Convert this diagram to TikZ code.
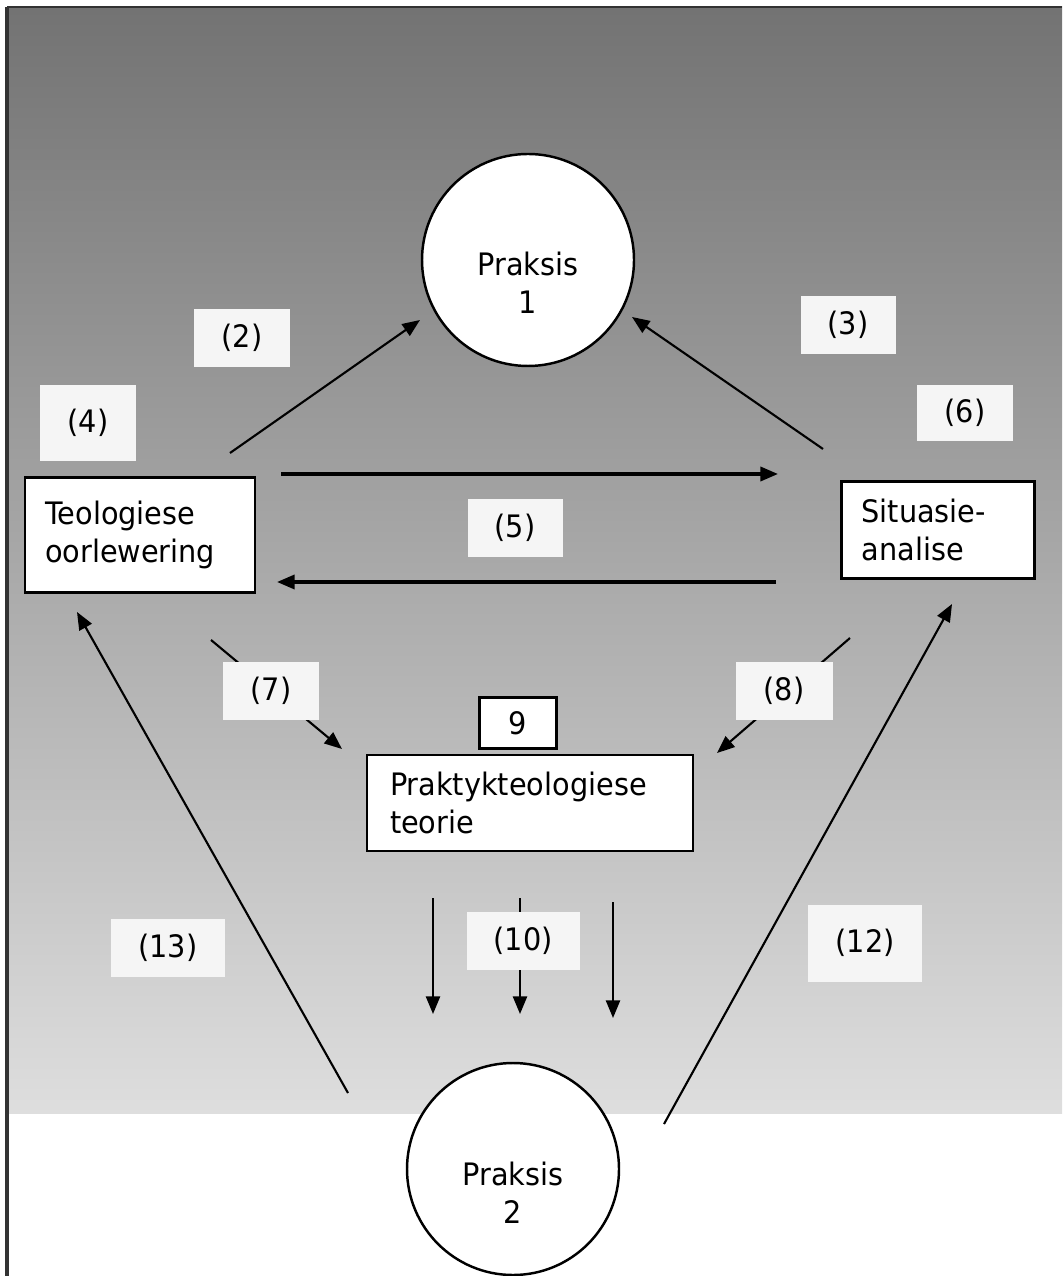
\documentclass[tikz,border=0pt]{standalone}
\usepackage{fontspec}
\setmainfont{DejaVu Sans}[FakeStretch=0.93]
\usetikzlibrary{arrows.meta, positioning, calc}

\begin{document}
\begin{tikzpicture}[
  x=0.1mm, y=-0.1mm,
  >={Triangle[length=5pt,width=4pt]},
  font=\fontsize{8.8}{10.7}\selectfont,
  arr/.style={->, line width=0.6pt},
  harr/.style={->, line width=0.9pt},
  blok/.style={draw, line width=0.8pt, fill=white, align=left, inner xsep=2mm, inner ysep=0pt},
  kring/.style={draw, circle, line width=0.7pt, fill=white, minimum size=21.2mm, inner sep=0pt},
  nommer/.style={fill=white!96!black, inner sep=0pt, minimum height=5.8mm}
  ]
  \useasboundingbox (0,0) rectangle (1062,1276);
  % agtergrond
  \fill[white] (0,0) rectangle (1062,1276);
  \shade[top color=black!55, middle color=black!38, bottom color=black!13] (7,7) rectangle (1062,1113);
  \draw[line width=1pt, black!80] (7,7) -- (7,1276);
  \draw[line width=0.8pt, black!80] (7,7) -- (1062,7);

  % eindpunte van die pyle
  \coordinate (a2s) at (230,453);  \coordinate (a2e) at (420,320);
  \coordinate (a3s) at (823,449);  \coordinate (a3e) at (632,317);
  \coordinate (hrs) at (281,474);  \coordinate (hre) at (778,474);
  \coordinate (hls) at (776,582);  \coordinate (hle) at (277,582);
  \coordinate (a7s) at (211,640);  \coordinate (a7e) at (342,749);
  \coordinate (a8s) at (850,638);  \coordinate (a8e) at (717,753);
  \coordinate (a13s) at (348,1093); \coordinate (a13e) at (77,612);
  \coordinate (a12s) at (664,1124); \coordinate (a12e) at (952,604);
  \coordinate (d1s) at (433,898);  \coordinate (d1e) at (433,1014);
  \coordinate (d2s) at (520,898);  \coordinate (d2e) at (520,1014);
  \coordinate (d3s) at (613,902);  \coordinate (d3e) at (613,1018);

  \draw[arr] (a2s) -- (a2e);
  \draw[arr] (a3s) -- (a3e);
  \draw[harr] (hrs) -- (hre);
  \draw[harr] (hls) -- (hle);
  \draw[arr] (a7s) -- (a7e);
  \draw[arr] (a8s) -- (a8e);
  \draw[arr] (a13s) -- (a13e);
  \draw[arr] (a12s) -- (a12e);
  \draw[arr] (d1s) -- (d1e);
  \draw[arr] (d2s) -- (d2e);
  \draw[arr] (d3s) -- (d3e);

  % nommers
  \node[nommer, minimum width=9.6mm] (n2) at (242,338) {(2)};
  \node[nommer, minimum width=9.5mm] (n3) at (848,325) {(3)};
  \node[nommer, minimum width=9.6mm, minimum height=7.6mm] (n4) at (88,423) {(4)};
  \node[nommer, minimum width=9.6mm, minimum height=5.6mm] (n6) at (965,413) {(6)};
  \node[nommer, minimum width=9.5mm] (n5) at (515,528) {(5)};
  \node[nommer, minimum width=9.6mm] (n7) at (271,691) {(7)};
  \node[nommer, minimum width=9.7mm] (n8) at (784,691) {(8)};
  \node[nommer, minimum width=11.4mm] (n13) at (168,948) {(13)};
  \node[nommer, minimum width=11.3mm] (n10) at (523,941) {(10)};
  \node[nommer, minimum width=11.4mm, minimum height=7.7mm] (n12) at (865,943) {(12)};

  % blokke
  \node[blok, minimum height=11.5mm, text width=19mm] (teo) at (140,535) {Teologiese\\oorlewering};
  \node[blok, minimum height=9.7mm, text width=15.3mm] (sit) at (938,530) {Situasie-\\analise};
  \node[blok, minimum height=9.6mm, text width=28mm, inner xsep=2.3mm] (ptt) at (530,803) {Praktykteologiese\\teorie};
  \node[draw, line width=0.8pt, fill=white, minimum width=7.7mm, minimum height=5.1mm, inner sep=0pt] (nine) at (518,723) {9};

  % praksis
  \node[kring] (p1) at (528,260) {};
  \node[align=center] (p1t) at (528,283) {Praksis\\1};
  \node[kring] (p2) at (513,1169) {};
  \node[align=center] (p2t) at (513,1193) {Praksis\\2};
\end{tikzpicture}
\end{document}
